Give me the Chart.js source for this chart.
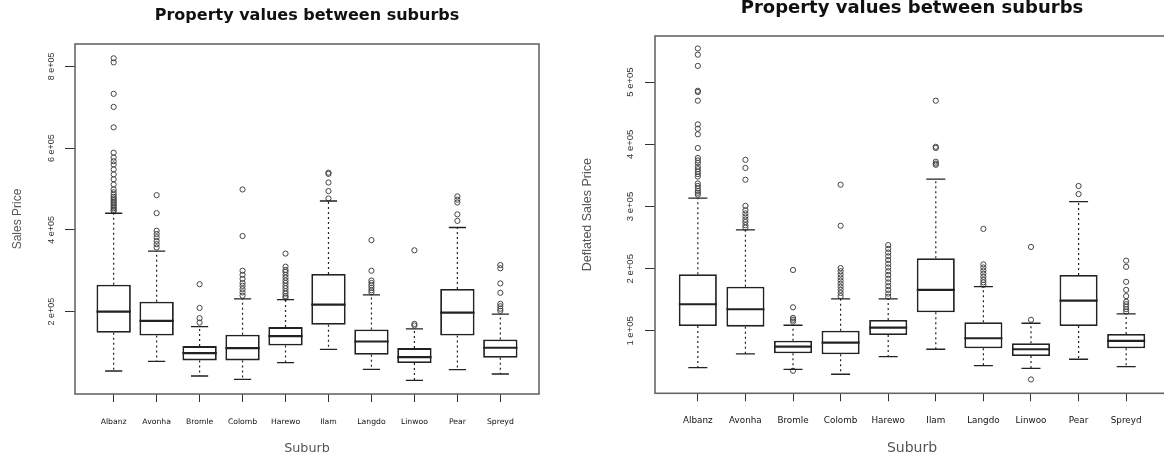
<!DOCTYPE html>
<html>
<head>
<meta charset="utf-8">
<title>Property values between suburbs</title>
<script src="https://cdn.jsdelivr.net/npm/chart.js@4.4.1/dist/chart.umd.min.js"></script>
<style>
  html, body { margin: 0; padding: 0; background: #fff; overflow: hidden; width: 1164px; height: 459px; }
  #salesChart { position: absolute; left: 0; top: 0; }
  #deflChart { position: absolute; left: 576px; top: 0; }
</style>
</head>
<body>
<canvas id="salesChart" width="582" height="459"></canvas>
<canvas id="deflChart" width="600" height="459"></canvas>
<script>
const suburbs = ['Albanz', 'Avonha', 'Bromle', 'Colomb', 'Harewo', 'Ilam', 'Langdo', 'Linwoo', 'Pear', 'Spreyd'];

// Sales price (left panel)
const saleLow  = [54600, 78000, 42400, 34100, 74900, 107300, 58500, 31700, 57800, 47300];
const saleQ1   = [148000, 141500, 80500, 80500, 117100, 167600, 94400, 74100, 141500, 87100];
const saleMed  = [200000, 177300, 98500, 110700, 140000, 217100, 126800, 88800, 197600, 111500];
const saleQ3   = [265900, 224400, 115600, 143200, 162000, 292000, 156100, 110700, 255400, 131700];
const saleHigh = [440700, 348000, 163400, 231000, 229300, 470700, 240700, 157800, 405900, 193700];
const saleOut = [
  [820000, 810000, 733000, 701000, 651000, 589000, 577000, 568000, 560000, 548000, 536000, 524000, 511000,
   499000, 492000, 486000, 481000, 477000, 473000, 469000, 465000, 461000, 457000, 453000, 449000, 446000],
  [485000, 441000, 398000, 390000, 382000, 373000, 365000, 357000],
  [267000, 209000, 184000, 173000],
  [499000, 385000, 300000, 290000, 280000, 270000, 263000, 255000, 247000, 239000],
  [342000, 310000, 302000, 297000, 290000, 283000, 276000, 270000, 263000, 257000, 250000, 244000, 238000, 234000],
  [540000, 537000, 516000, 495000, 477000],
  [375000, 300000, 276000, 270000, 264000, 258000, 252000, 247000],
  [350000, 170000, 166000],
  [482000, 474000, 467000, 438000, 422000],
  [314000, 306000, 269000, 246000, 219000, 213000, 207000, 202000]
];
const saleTicks = [200000, 400000, 600000, 800000];

// Deflated sales price (right panel)
const deflLow  = [41000, 63000, 38400, 30400, 58700, 70600, 44200, 40000, 54500, 42600];
const deflQ1   = [108000, 106900, 64100, 62500, 93600, 130100, 72200, 59800, 108000, 72200];
const deflMed  = [142900, 134900, 74800, 81200, 105300, 165900, 88300, 70600, 148700, 83900];
const deflQ3   = [191200, 171200, 84400, 100500, 117700, 216900, 114000, 80200, 190000, 95200];
const deflHigh = [313300, 262400, 109200, 151400, 151400, 343900, 171200, 112400, 307900, 127300];
const deflOut = [
  [554000, 544000, 526000, 486000, 484000, 470000, 432000, 425000, 416000, 394000, 378000, 374000, 370000,
   364000, 360000, 356000, 352000, 348000, 337000, 333000, 329000, 325000, 322000, 319000],
  [375000, 362000, 343000, 301000, 294000, 289000, 284000, 279000, 275000, 270000, 266000],
  [198000, 138000, 121000, 118000, 115000, 36000],
  [335000, 269000, 201000, 196000, 191000, 186000, 181000, 176000, 171000, 166000, 161000, 156000],
  [238000, 232000, 226000, 220000, 214000, 208000, 202000, 196000, 190000, 184000, 178000, 172000, 166000, 160000, 155000],
  [470000, 396000, 394000, 372000, 369000, 367000],
  [264000, 207000, 202000, 197000, 192000, 187000, 182000, 178000, 174000],
  [235000, 118000, 22000],
  [333000, 320000],
  [213000, 203000, 179000, 166000, 156000, 147000, 143000, 139000, 135000, 131000]
];
const deflTicks = [100000, 200000, 300000, 400000, 500000];

// medians, whiskers and the plot frame, placed with the chart's scales
function boxParts(low, med, high, q1, q3) {
  return {
    id: 'boxParts',
    beforeDatasetsDraw(chart) {
      const a = chart.chartArea;
      const ctx = chart.ctx;
      ctx.save();
      ctx.strokeStyle = '#666';
      ctx.lineWidth = 1.6;
      ctx.strokeRect(a.left, a.top, a.right - a.left, a.bottom - a.top);
      ctx.restore();
    },
    afterDatasetsDraw(chart) {
      const ctx = chart.ctx;
      const x = chart.scales.x, y = chart.scales.y;
      ctx.save();
      ctx.strokeStyle = '#222';
      med.forEach(function(m, i) {
        const cx = x.getPixelForValue(i + 1);
        const half = x.getPixelForValue(i + 1.4) - cx;
        const cap = half / 2;
        ctx.setLineDash([]);
        ctx.lineWidth = 2.2;
        ctx.beginPath();
        ctx.moveTo(cx - half, y.getPixelForValue(m));
        ctx.lineTo(cx + half, y.getPixelForValue(m));
        ctx.stroke();
        ctx.lineWidth = 1.2;
        ctx.setLineDash([2, 3]);
        ctx.beginPath();
        ctx.moveTo(cx, y.getPixelForValue(q3[i]));
        ctx.lineTo(cx, y.getPixelForValue(high[i]));
        ctx.moveTo(cx, y.getPixelForValue(q1[i]));
        ctx.lineTo(cx, y.getPixelForValue(low[i]));
        ctx.stroke();
        ctx.setLineDash([]);
        ctx.lineWidth = 1.3;
        ctx.beginPath();
        ctx.moveTo(cx - cap, y.getPixelForValue(high[i]));
        ctx.lineTo(cx + cap, y.getPixelForValue(high[i]));
        ctx.moveTo(cx - cap, y.getPixelForValue(low[i]));
        ctx.lineTo(cx + cap, y.getPixelForValue(low[i]));
        ctx.stroke();
      });
      ctx.restore();
    }
  };
}

function makeBoxChart(id, p) {
  const boxes = suburbs.map(function(s, i) { return { x: i + 1, y: [p.q1[i], p.q3[i]] }; });
  const points = [];
  p.out.forEach(function(list, i) {
    list.forEach(function(v) { points.push({ x: i + 1, y: v }); });
  });

  new Chart(document.getElementById(id), {
    type: 'bar',
    data: {
      datasets: [{
        data: boxes,
        backgroundColor: '#fff',
        borderColor: '#222',
        borderWidth: 1.8,
        borderSkipped: false,
        categoryPercentage: 1,
        barPercentage: 0.8
      }, {
        type: 'scatter',
        data: points,
        pointRadius: 2.6,
        pointBorderWidth: 1,
        borderColor: '#444',
        backgroundColor: 'rgba(0,0,0,0)'
      }]
    },
    options: {
      responsive: false,
      animation: false,
      events: [],
      layout: { padding: { top: 0, right: p.padRight, bottom: 0, left: 0 } },
      plugins: {
        legend: { display: false },
        tooltip: { enabled: false },
        title: {
          display: true,
          fullSize: false,
          text: 'Property values between suburbs',
          color: '#111',
          font: { family: 'DejaVu Sans', size: p.titleSize, weight: 'bold' },
          padding: p.titlePad
        }
      },
      scales: {
        x: {
          type: 'linear',
          offset: false,
          min: 0.1,
          max: 10.9,
          afterBuildTicks: function(sc) { sc.ticks = suburbs.map(function(s, i) { return { value: i + 1 }; }); },
          afterFit: function(sc) { sc.height = p.xHeight; },
          ticks: {
            callback: function(v) { return suburbs[v - 1]; },
            autoSkip: false, minRotation: 0, maxRotation: 0,
            padding: p.xTickPad,
            color: '#111',
            font: { family: 'DejaVu Sans', size: p.catSize }
          },
          grid: { offset: false, drawOnChartArea: false, tickLength: 8, color: '#333' },
          border: { display: false },
          title: {
            display: true, text: 'Suburb', color: '#555',
            font: { family: 'DejaVu Sans', size: p.xTitleSize },
            padding: { top: 0, bottom: p.xTitlePad }
          }
        },
        y: {
          min: p.yMin,
          max: p.yMax,
          afterBuildTicks: function(sc) { sc.ticks = p.ticks.map(function(v) { return { value: v }; }); },
          afterFit: function(sc) { sc.width = p.yWidth; },
          ticks: {
            callback: function(v) { return (v / 100000) + ' e+05'; },
            autoSkip: false, minRotation: 90, maxRotation: 90,
            crossAlign: 'center',
            padding: 0,
            color: '#333',
            font: { family: 'Liberation Sans', size: p.yTickSize }
          },
          grid: { drawOnChartArea: false, tickLength: 10, color: '#333' },
          border: { display: false },
          title: {
            display: true, text: p.yTitle, color: '#555',
            font: { family: 'Liberation Sans', size: p.yTitleSize },
            padding: { top: p.yTitlePad, bottom: 0 }
          }
        }
      }
    },
    plugins: [boxParts(p.low, p.med, p.high, p.q1, p.q3)]
  });
}

makeBoxChart('salesChart', {
  low: saleLow, q1: saleQ1, med: saleMed, q3: saleQ3, high: saleHigh, out: saleOut, ticks: saleTicks,
  yMin: -1700, yMax: 855000, yTitle: 'Sales Price',
  padRight: 43, yWidth: 75, xHeight: 65,
  titleSize: 16, titlePad: { top: 5.8, bottom: 19 },
  catSize: 7.7, xTickPad: 15, xTitleSize: 12.7, xTitlePad: 2.7,
  yTickSize: 9, yTitleSize: 12, yTitlePad: 10
});

makeBoxChart('deflChart', {
  low: deflLow, q1: deflQ1, med: deflMed, q3: deflQ3, high: deflHigh, out: deflOut, ticks: deflTicks,
  yMin: -200, yMax: 574000, yTitle: 'Deflated Sales Price',
  padRight: 7, yWidth: 79, xHeight: 65.7,
  titleSize: 18, titlePad: { top: -2.3, bottom: 16.7 },
  catSize: 8.8, xTickPad: 14, xTitleSize: 14, xTitlePad: 2,
  yTickSize: 9.5, yTitleSize: 12.5, yTitlePad: 4.5
});
</script>
</body>
</html>
